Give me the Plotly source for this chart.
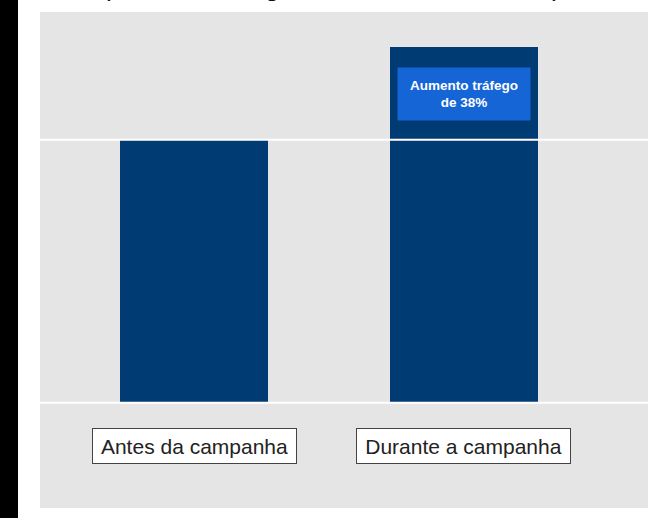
import plotly.graph_objects as go

categories = ["Antes da campanha", "Durante a campanha"]
traffic = [100, 135.3]
callout_text = "Aumento tráfego<br>de 38%"
title_text = "Impacto no tráfego do site durante a campanha"

BAR = "#003b73"
x_pos = [0, 1]
label_widths = [195, 205]

fig = go.Figure()
fig.add_trace(go.Bar(x=x_pos, y=traffic, width=0.547,
                     marker=dict(color=BAR, line=dict(width=0)),
                     hoverinfo="skip", showlegend=False))

# gridlines drawn above bars
for yv in [0, 100]:
    fig.add_shape(type="line", xref="paper", yref="y", x0=0, x1=1, y0=yv, y1=yv,
                  line=dict(color="white", width=2), layer="above")

# black strip at left edge
fig.add_shape(type="rect", xref="paper", yref="paper",
              x0=-40/608, x1=-22/608, y0=-0.05, y1=1.05,
              fillcolor="black", line=dict(width=0), layer="above")

# category labels
for xp, cat, w in zip(x_pos, categories, label_widths):
    fig.add_annotation(x=xp, xref="x", y=0.1254, yref="paper", xanchor="center", yanchor="middle",
                       text=cat, showarrow=False, width=w, height=26,
                       font=dict(family="Liberation Sans, Arial", size=21, color="#222222"),
                       bgcolor="white", bordercolor="#444444", borderwidth=1, borderpad=4)

# callout
fig.add_annotation(x=x_pos[1], xref="x", y=0.8347, yref="paper", xanchor="center", yanchor="middle",
                   text="<b>" + callout_text + "</b>", showarrow=False,
                   font=dict(family="Liberation Sans, Arial", size=13.5, color="white"),
                   bgcolor="#1565d6", width=124, height=44, borderpad=4)

# title (mostly cut off at top)
fig.add_annotation(x=0.51, xref="paper", y=1.05, yref="paper", yanchor="middle", text=title_text,
                   showarrow=False, font=dict(family="Liberation Sans, Arial", size=26, color="#111111"))

fig.update_layout(
    width=653, height=518,
    margin=dict(l=40, r=5, t=12, b=10),
    paper_bgcolor="white", plot_bgcolor="#e4e5e4",
    xaxis=dict(range=[-0.571, 1.683], showticklabels=False, showgrid=False, zeroline=False, ticks=""),
    yaxis=dict(range=[-40, 148.6], showticklabels=False, showgrid=False, zeroline=False, ticks=""),
    bargap=0,
)

fig.write_html("out.html", config={"displayModeBar": False},
               post_script="document.body.style.margin='0';")
